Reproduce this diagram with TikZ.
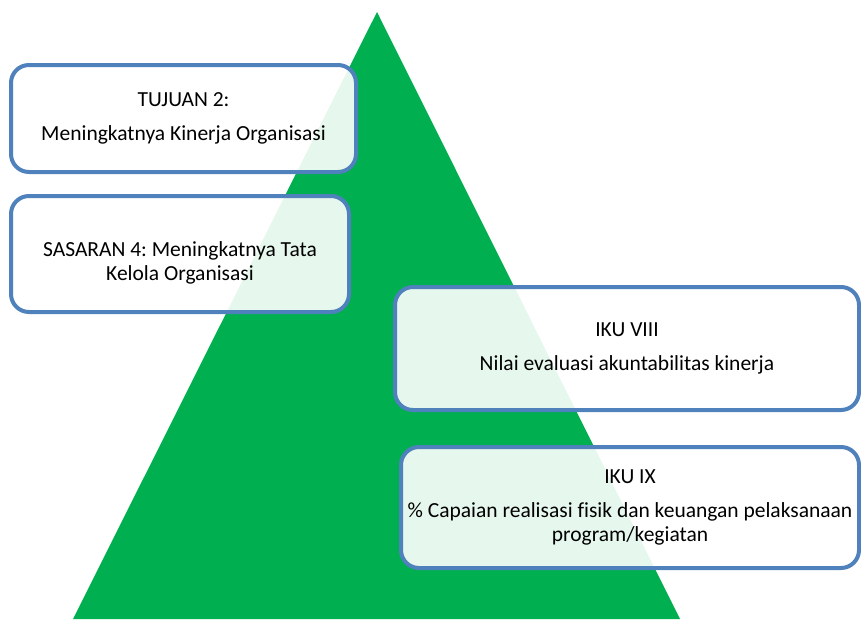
\documentclass[tikz,border=0pt]{standalone}
\usepackage{fontspec}
\setmainfont{Carlito}[Ligatures=NoCommon]
\frenchspacing
\definecolor{pyramidgreen}{RGB}{0,176,80}
\definecolor{boxblue}{RGB}{79,129,189}
\tikzset{
  box/.style={draw=boxblue,line width=4pt,rounded corners=18pt,fill=white,
    fill opacity=0.9,text opacity=1,align=center,inner sep=2pt,
    font=\fontsize{21.5}{24}\selectfont},
  boxtext/.style={align=center,inner sep=0pt,font=\fontsize{21.5}{24}\selectfont}
}
\begin{document}
\begin{tikzpicture}[x=1pt,y=-1pt]
\useasboundingbox (0,0) rectangle (861,619);
% pyramid
\fill[pyramidgreen] (377,12) -- (680,619) -- (73,619) -- cycle;
% left boxes
\node[box,minimum width=345pt,minimum height=107pt] (tujuan) at (183.5,118.5)
  {TUJUAN 2:\\[10pt]Meningkatnya Kinerja Organisasi};
\node[box,minimum width=338pt,minimum height=116pt] (sasaran) at (180,254) {};
\node[boxtext] (sasarantext) at ([yshift=-9pt]sasaran.center)
  {SASARAN 4: Meningkatnya Tata\\Kelola Organisasi};
% right boxes
\node[box,minimum width=464pt,minimum height=123pt] (ikuviii) at (627,348.5)
  {IKU VIII\\[10pt]Nilai evaluasi akuntabilitas kinerja};
\node[box,minimum width=458pt,minimum height=121pt] (ikuix) at (630,507.5)
  {IKU IX\\[10pt]\% Capaian realisasi fisik dan keuangan pelaksanaan\\program/kegiatan};
\end{tikzpicture}
\end{document}
